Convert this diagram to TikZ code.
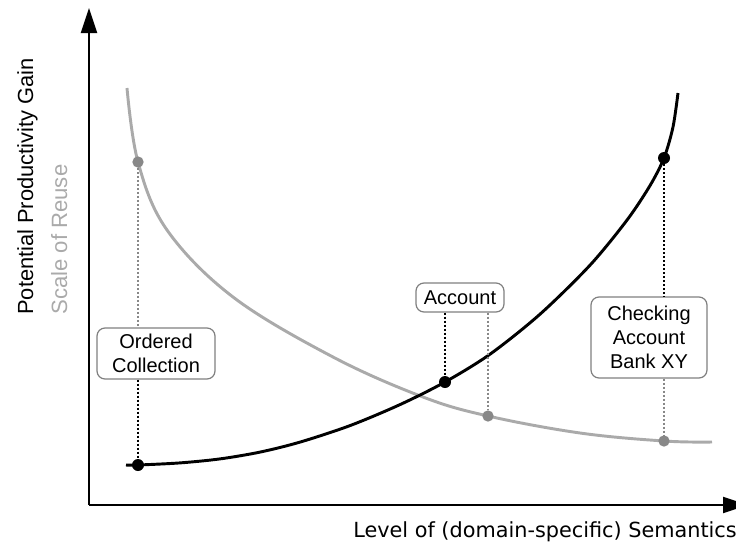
\documentclass[tikz,border=0pt]{standalone}
\usepackage{fontspec}
\setmainfont{Liberation Sans}
\newfontfamily\axisfont{DejaVu Sans}
\usetikzlibrary{arrows.meta}
\definecolor{curvegray}{HTML}{AAAAAA}
\definecolor{dotgray}{HTML}{888888}
\definecolor{boxgray}{HTML}{808080}
\tikzset{
  axisline/.style={line width=1.5pt,-{Triangle[length=18.75pt,width=12pt]}},
  blackcurve/.style={line width=2.2pt,black},
  graycurve/.style={line width=2.2pt,curvegray},
  bdot/.style={circle,fill=black,inner sep=0pt,minimum size=9pt},
  gdot/.style={circle,fill=dotgray,inner sep=0pt,minimum size=8.5pt},
  bdots/.style={line width=1.1pt,black,dash pattern=on 1.5pt off 1.5pt},
  gdots/.style={line width=0.9pt,dotgray,dash pattern=on 1.5pt off 1.5pt},
  labelbox/.style={draw=boxgray,line width=0.9pt,rounded corners=6pt,fill=white,
    align=center,inner sep=0pt,font=\fontsize{15pt}{18pt}\selectfont},
}
\begin{document}
\begin{tikzpicture}[x=0.75pt,y=-0.75pt]
\clip (0,0) rectangle (736,554);
% axes
\coordinate (O) at (89,505);
\coordinate (ytip) at (89,8);
\coordinate (xtip) at (748,505);
\draw[axisline] (O) -- (ytip);
\draw[axisline] (O) -- (xtip);
% axis labels
\node[rotate=90,anchor=base west,inner sep=0pt,font=\fontsize{16.4pt}{20pt}\selectfont] (ylab) at (33,315) {Potential Productivity Gain};
\node[rotate=90,anchor=base west,inner sep=0pt,text=curvegray,font=\fontsize{16.6pt}{20pt}\selectfont] (ylab2) at (67,315) {Scale of Reuse};
\node[anchor=base east,inner sep=0pt,font=\axisfont\fontsize{15.6pt}{18pt}\selectfont] (xlab) at (737,537) {Level of (domain-specific) Semantics};
% curves
\draw[graycurve] plot[smooth,tension=0.6] coordinates {(127,88) (138,162) (167,230) (233,297) (333,357) (423,397) (488,416) (580,433) (664,441) (712,442)};
\draw[blackcurve] plot[smooth,tension=0.5] coordinates {(126,465) (138,465) (180,462.9) (220,458.9) (260,452.1) (300,442.1) (350,425.6) (400,404.6) (445,382) (490,354.2) (540,314.2) (590,265.2) (627,220.1) (650,185.6) (664,158) (673,127) (678,93)};
% boxes
\node[labelbox,minimum width=88.5pt,minimum height=38.25pt] (oc) at (156,353.5) {Ordered\\Collection};
\node[labelbox,minimum width=66pt,minimum height=21.75pt] (acc) at (460,297.5) {Account};
\node[labelbox,minimum width=87pt,minimum height=60.75pt] (chk) at (649,337.5) {Checking\\Account\\Bank XY};
% dots
\node[gdot] (g1) at (138,162) {};
\node[bdot] (b1) at (138,465) {};
\node[bdot] (b2) at (445,382) {};
\node[gdot] (g2) at (488,416) {};
\node[bdot] (b3) at (664,158) {};
\node[gdot] (g3) at (664,441) {};
% dotted connectors
\draw[gdots] (g1) -- (g1 |- oc.north);
\draw[bdots] (b1 |- oc.south) -- (b1);
\draw[bdots] (b2 |- acc.south) -- (b2);
\draw[gdots] (g2 |- acc.south) -- (g2);
\draw[bdots] (b3) -- (b3 |- chk.north);
\draw[gdots] (g3 |- chk.south) -- (g3);
\end{tikzpicture}
\end{document}
